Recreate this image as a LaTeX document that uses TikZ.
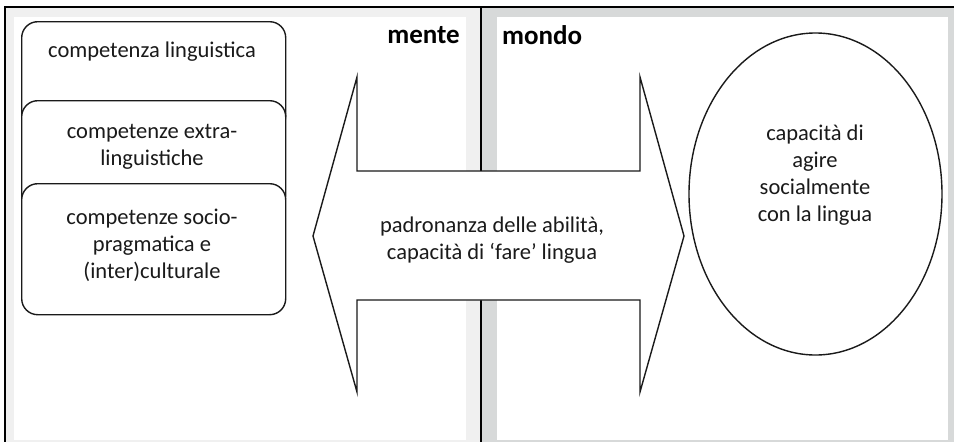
\documentclass[tikz,border=0pt]{standalone}
\usepackage{fontspec}
\setmainfont{Carlito}
\usetikzlibrary{shapes.geometric}
\definecolor{lpanel}{HTML}{F0F0F0}
\definecolor{rpanel}{HTML}{D7D9D9}
\definecolor{ink}{HTML}{1A1A1A}
\tikzset{
  outline/.style={draw=ink, line width=1.4pt},
  compbox/.style={outline, fill=white, rounded corners=16pt, minimum width=264pt, inner sep=0pt, anchor=north west},
  txt/.style={text=ink, font=\fontsize{22.5}{27}\selectfont, align=center, inner sep=0pt},
  head/.style={text=black, font=\fontsize{27}{30}\selectfont\bfseries, inner sep=0pt}
}
\tikzset{frame/.style={draw=black, line width=1.5pt}}
\begin{document}
\begin{tikzpicture}[x=1pt, y=-1pt]
\useasboundingbox (0,0) rectangle (954,442);
% panels
\fill[lpanel] (5,7) rectangle (481,442);
\fill[white] (14,17) rectangle (466,440);
\fill[rpanel] (481,7) rectangle (954,442);
\fill[white] (497,17) rectangle (948,440);
\coordinate (tl) at (5,7);
\coordinate (tr) at (954,7);
\coordinate (bl) at (5,442);
\coordinate (mt) at (481,7);
\coordinate (mb) at (481,442);
\draw[frame] (tr) -- (tl) -- (bl);
\draw[frame] (mt) -- (mb);
% headings
\node[head, anchor=east] (mente) at (460,35) {mente};
\node[head, anchor=west] (mondo) at (502,35) {mondo};
% stacked boxes
\node[compbox, minimum height=110pt] (b1) at (21,21) {};
\node[compbox, minimum height=110pt] (b2) at (21,100) {};
\node[compbox, minimum height=131pt] (b3) at (21,183) {};
\node[txt] (t1) at (152,52) {competenza linguistica};
\node[txt] (t2) at (152,147) {competenze extra-\\linguistiche};
\node[txt] (t3) at (152,245) {competenze socio-\\pragmatica e\\(inter)culturale};
% double arrow
\draw[outline, fill=white, line join=miter]
  (313,236) -- (357,77) -- (357,171) -- (640,171) -- (640,77) -- (684,236)
  -- (640,392) -- (640,300) -- (357,300) -- (357,392) -- cycle;
\node[txt] (at) at (492,240) {padronanza delle abilità,\\capacità di ‘fare’ lingua};
% ellipse
\node[outline, ellipse, minimum width=253pt, minimum height=322pt, inner sep=0pt] (ell) at (815.5,194) {};
\node[txt] (et) at (815,175) {capacità di\\agire\\socialmente\\con la lingua};
\end{tikzpicture}
\end{document}
